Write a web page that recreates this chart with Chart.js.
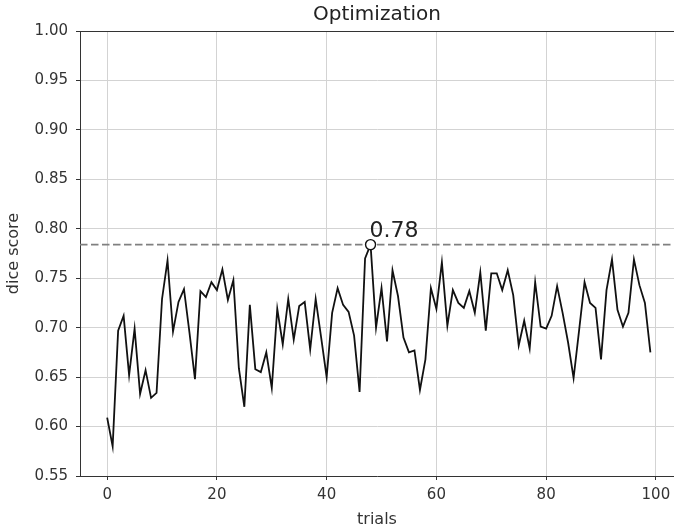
<!DOCTYPE html>
<html lang="en">
<head>
<meta charset="UTF-8">
<title>Optimization</title>
<script src="https://cdn.jsdelivr.net/npm/chart.js"></script>
<style>
    html, body { margin: 0; padding: 0; background: #fff; }
    #wrap { width: 674px; height: 531px; position: relative; }
</style>
</head>
<body>
<div id="wrap"><canvas id="myChart"></canvas></div>
<script>
// trial index and dice score per trial
var trials = Array.from({length: 100}, function (_, i) { return i; });
var scores = [
    0.609, 0.580, 0.697, 0.712, 0.652, 0.699, 0.633, 0.657, 0.629, 0.634,
    0.729, 0.768, 0.696, 0.726, 0.739, 0.695, 0.648, 0.737, 0.731, 0.746,
    0.738, 0.759, 0.728, 0.748, 0.659, 0.620, 0.723, 0.658, 0.655, 0.675,
    0.639, 0.719, 0.683, 0.729, 0.688, 0.722, 0.726, 0.678, 0.729, 0.690,
    0.650, 0.715, 0.740, 0.723, 0.716, 0.692, 0.635, 0.770, 0.784, 0.700,
    0.740, 0.686, 0.758, 0.732, 0.690, 0.675, 0.677, 0.637, 0.668, 0.740,
    0.719, 0.766, 0.702, 0.738, 0.725, 0.720, 0.737, 0.715, 0.756, 0.697,
    0.755, 0.755, 0.738, 0.758, 0.733, 0.682, 0.707, 0.679, 0.746, 0.701,
    0.699, 0.712, 0.742, 0.715, 0.685, 0.649, 0.697, 0.746, 0.725, 0.720,
    0.668, 0.738, 0.769, 0.718, 0.701, 0.715, 0.769, 0.743, 0.725, 0.675
];
var xTicks = [0, 20, 40, 60, 80, 100];
var yTicks = [0.55, 0.60, 0.65, 0.70, 0.75, 0.80, 0.85, 0.90, 0.95, 1.00];
var xMin = -4.95, xMax = 103.3;
var yMin = 0.55, yMax = 1.00;

var bestScore = Math.max.apply(null, scores);
var bestTrial = scores.indexOf(bestScore);

var FONT = "'DejaVu Sans', sans-serif";

// top spine + best value label
var extras = {
    id: 'extras',
    afterDatasetsDraw: function (chart) {
        var ctx = chart.ctx, a = chart.chartArea;
        ctx.save();
        ctx.strokeStyle = '#333';
        ctx.lineWidth = 1;
        ctx.beginPath();
        ctx.moveTo(a.left, a.top + 0.5);
        ctx.lineTo(a.right, a.top + 0.5);
        ctx.stroke();

        var px = chart.scales.x.getPixelForValue(bestTrial);
        var py = chart.scales.y.getPixelForValue(bestScore);
        ctx.fillStyle = '#222';
        ctx.font = '22px ' + FONT;
        ctx.textAlign = 'left';
        ctx.textBaseline = 'alphabetic';
        ctx.fillText(bestScore.toFixed(2), px - 1, py - 8);
        ctx.restore();
    }
};

var ctx = document.getElementById('myChart').getContext('2d');
var myChart = new Chart(ctx, {
    type: 'line',
    data: {
        datasets: [{
            // best trial marker
            data: [{x: bestTrial, y: bestScore}],
            showLine: false,
            pointRadius: 5,
            pointBackgroundColor: '#fff',
            pointBorderColor: '#111',
            pointBorderWidth: 1.4
        }, {
            data: trials.map(function (t, i) { return {x: t, y: scores[i]}; }),
            borderColor: '#111',
            borderWidth: 1.8,
            pointRadius: 0,
            tension: 0
        }, {
            // horizontal line at best score
            data: [{x: xMin, y: bestScore}, {x: xMax, y: bestScore}],
            borderColor: '#808080',
            borderWidth: 1.6,
            borderDash: [7.5, 3.5],
            pointRadius: 0
        }]
    },
    options: {
        responsive: true,
        maintainAspectRatio: false,
        animation: false,
        layout: { padding: 0, autoPadding: false },
        plugins: {
            legend: { display: false },
            tooltip: { enabled: false },
            title: {
                display: true,
                text: 'Optimization',
                fullSize: false,
                color: '#222',
                font: { family: FONT, size: 20, weight: 'normal' },
                padding: { top: 3, bottom: 4 }
            }
        },
        scales: {
            x: {
                type: 'linear',
                min: xMin,
                max: xMax,
                afterBuildTicks: function (s) { s.ticks = xTicks.map(function (v) { return {value: v}; }); },
                afterFit: function (s) { s.height = 55; s.paddingLeft = 0; s.paddingRight = 0; },
                grid: { color: '#d3d3d3', tickColor: '#333', tickLength: 4, lineWidth: 1 },
                border: { color: '#333', width: 1 },
                ticks: { color: '#333', padding: 6, maxRotation: 0, font: { family: FONT, size: 15 } },
                title: { display: true, text: 'trials', color: '#333', padding: { top: 4, bottom: 2 }, font: { family: FONT, size: 16 } }
            },
            y: {
                min: yMin,
                max: yMax,
                afterBuildTicks: function (s) { s.ticks = yTicks.map(function (v) { return {value: v}; }); },
                afterFit: function (s) { s.width = 80; },
                grid: { color: '#d3d3d3', tickColor: '#333', tickLength: 4, lineWidth: 1 },
                border: { color: '#333', width: 1 },
                ticks: {
                    color: '#333', padding: 8, font: { family: FONT, size: 15 },
                    callback: function (v) { return v.toFixed(2); }
                },
                title: { display: true, text: 'dice score', color: '#333', font: { family: FONT, size: 16 } }
            }
        }
    },
    plugins: [extras]
});
</script>
</body>
</html>
